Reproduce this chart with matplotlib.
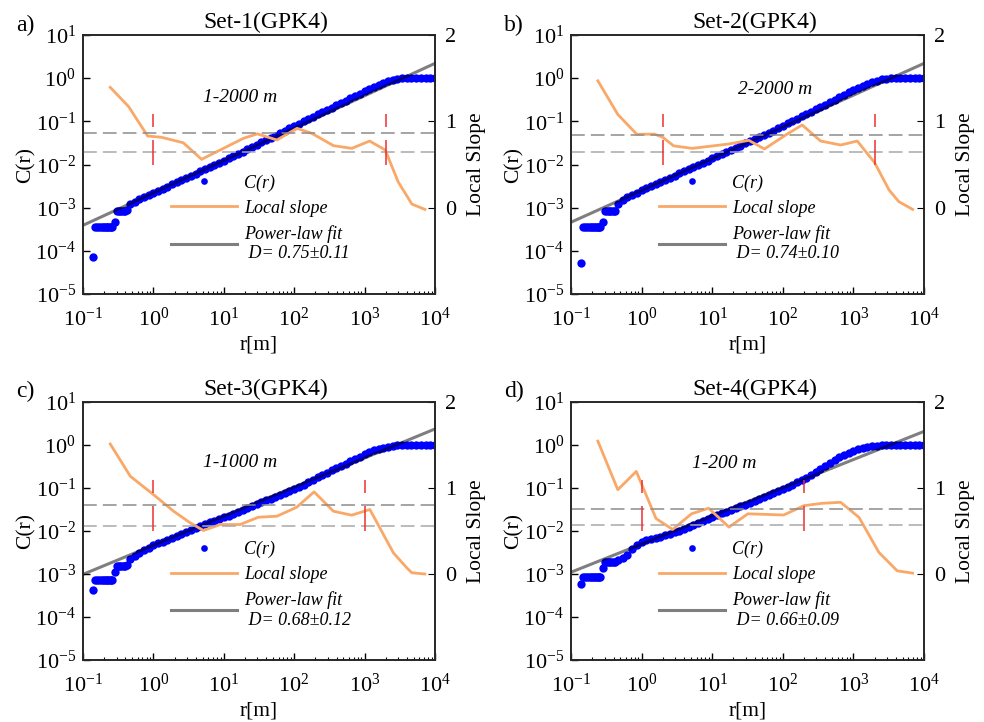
import matplotlib
matplotlib.use('Agg')
import matplotlib.pyplot as plt
import numpy as np
from matplotlib.font_manager import FontProperties
from matplotlib.ticker import LogLocator

plt.rcParams['font.family'] = 'Liberation Serif'
plt.rcParams['mathtext.fontset'] = 'custom'
plt.rcParams['mathtext.rm'] = 'Liberation Serif'
plt.rcParams['mathtext.it'] = 'Liberation Serif:italic'

# distances r [m] shared by all four sets
r_vals = [0.14, 0.15, 0.16, 0.17, 0.18, 0.19, 0.20, 0.21, 0.22, 0.23, 0.24, 0.25, 0.26, 0.285,
          0.30, 0.32, 0.34, 0.36, 0.38, 0.40, 0.42,
          0.464, 0.541, 0.631, 0.736, 0.858,
          1.0, 1.17, 1.36, 1.58, 1.85, 2.15, 2.51, 2.93, 3.41, 3.98, 4.64, 5.41, 6.31, 7.36, 8.58,
          10, 11.7, 13.6, 15.8, 18.5, 21.5, 25.1, 29.3, 34.1, 39.8, 46.4, 54.1, 63.1, 73.6, 85.8,
          100, 117, 136, 158, 185, 215, 251, 293, 341, 398, 464, 541, 631, 736, 858,
          1000, 1170, 1360, 1580, 1850, 2150, 2510, 2930, 3410, 3980, 4640, 5410, 6310, 7360, 8580,
          10000]

# log10 C(r) for each set
logc_1 = [-4.15, -3.455, -3.455, -3.455, -3.455, -3.455, -3.455, -3.455, -3.455, -3.455, -3.455, -3.455, -3.455, -3.34,
          -3.08, -3.08, -3.08, -3.08, -3.08, -3.07, -3.06,
          -2.92, -2.86, -2.81, -2.76, -2.71,
          -2.66, -2.61, -2.56, -2.51, -2.46, -2.41, -2.36, -2.31, -2.26, -2.21, -2.16, -2.11, -2.06, -2.01, -1.96,
          -1.91, -1.855, -1.80, -1.755, -1.70, -1.65, -1.595, -1.54, -1.49, -1.435, -1.38, -1.33, -1.275, -1.22, -1.165,
          -1.11, -1.055, -1.0, -0.95, -0.895, -0.84, -0.79, -0.735, -0.685, -0.63, -0.575, -0.52, -0.47, -0.415, -0.36,
          -0.30, -0.25, -0.20, -0.155, -0.11, -0.07, -0.035, -0.01, 0, 0, 0, 0, 0, 0, 0,
          0]
logc_2 = [-4.29, -3.455, -3.455, -3.455, -3.455, -3.455, -3.455, -3.455, -3.455, -3.455, -3.455, -3.455, -3.455, -3.34,
          -3.08, -3.08, -3.08, -3.08, -3.08, -3.08, -3.07,
          -2.92, -2.83, -2.76, -2.70, -2.65,
          -2.60, -2.55, -2.50, -2.45, -2.40, -2.355, -2.305, -2.255, -2.205, -2.155, -2.105, -2.06, -2.01, -1.96, -1.91,
          -1.86, -1.81, -1.76, -1.71, -1.66, -1.61, -1.56, -1.51, -1.46, -1.41, -1.365, -1.315, -1.265, -1.215, -1.16,
          -1.10, -1.045, -0.99, -0.935, -0.88, -0.83, -0.775, -0.72, -0.665, -0.61, -0.555, -0.50, -0.445, -0.39, -0.33,
          -0.27, -0.22, -0.17, -0.13, -0.09, -0.06, -0.03, -0.01, 0, 0, 0, 0, 0, 0, 0,
          0]
logc_3 = [-3.38, -3.15, -3.15, -3.15, -3.15, -3.15, -3.15, -3.15, -3.15, -3.15, -3.15, -3.15, -3.15, -2.95,
          -2.82, -2.82, -2.82, -2.82, -2.82, -2.82, -2.80,
          -2.66, -2.58, -2.52, -2.45, -2.39,
          -2.335, -2.29, -2.245, -2.20, -2.155, -2.11, -2.065, -2.02, -1.975, -1.93, -1.89, -1.845, -1.80, -1.76, -1.72,
          -1.68, -1.64, -1.595, -1.55, -1.51, -1.465, -1.42, -1.375, -1.33, -1.29, -1.245, -1.20, -1.155, -1.11, -1.07,
          -1.025, -0.975, -0.925, -0.87, -0.81, -0.75, -0.695, -0.64, -0.59, -0.54, -0.485, -0.435, -0.38, -0.33, -0.275,
          -0.22, -0.17, -0.125, -0.09, -0.06, -0.035, -0.015, -0.005, 0, 0, 0, 0, 0, 0, 0,
          0]
logc_4 = [-3.23, -3.06, -3.06, -3.06, -3.06, -3.06, -3.06, -3.06, -3.06, -3.06, -3.06, -3.06, -3.06, -2.86,
          -2.73, -2.73, -2.73, -2.73, -2.73, -2.73, -2.72,
          -2.68, -2.62, -2.55, -2.43, -2.32,
          -2.25, -2.22, -2.19, -2.16, -2.13, -2.10, -2.065, -2.03, -1.995, -1.955, -1.91, -1.865, -1.815, -1.765, -1.715,
          -1.665, -1.625, -1.59, -1.555, -1.515, -1.475, -1.43, -1.385, -1.34, -1.295, -1.25, -1.205, -1.16, -1.115, -1.07,
          -1.02, -0.97, -0.92, -0.87, -0.815, -0.76, -0.70, -0.635, -0.565, -0.495, -0.42, -0.35, -0.29, -0.235, -0.185,
          -0.14, -0.10, -0.07, -0.045, -0.03, -0.015, -0.005, 0, 0, 0, 0, 0, 0, 0, 0,
          0]

# local slope curves
ls_r_1 = [0.244, 0.446, 0.83, 1.31, 2.66, 4.85, 8.9, 19, 30, 57, 110, 178, 363, 660, 1180, 1970, 3000, 4700, 7200]
ls_s_1 = [1.394, 1.17, 0.83, 0.815, 0.752, 0.56, 0.668, 0.803, 0.855, 0.784, 0.919, 0.861, 0.718, 0.687, 0.772,
          0.668, 0.30, 0.042, -0.02]
ls_r_2 = [0.24, 0.46, 0.855, 1.52, 2.0, 2.84, 5.2, 17, 33, 55, 110, 188, 343, 660, 1135, 2000, 3200, 4400, 6900]
ls_s_2 = [1.47, 1.08, 0.85, 0.852, 0.815, 0.716, 0.687, 0.737, 0.78, 0.68, 0.842, 0.958, 0.772, 0.726, 0.772,
          0.521, 0.205, 0.07, -0.02]
ls_r_3 = [0.244, 0.47, 1.0, 1.94, 3.34, 5.15, 8.9, 17, 31, 57, 109, 192, 361, 656, 1190, 2570, 3980, 4700, 7200]
ls_s_3 = [1.512, 1.137, 0.924, 0.73, 0.595, 0.506, 0.575, 0.575, 0.66, 0.672, 0.777, 0.955, 0.73, 0.684, 0.75,
          0.246, 0.072, 0.014, 0.0]
ls_r_4 = [0.24, 0.46, 0.84, 1.6, 2.75, 5.1, 8.9, 17.3, 32, 103, 200, 363, 660, 1200, 2300, 4170, 6900]
ls_s_4 = [1.545, 0.98, 1.193, 0.645, 0.518, 0.70, 0.765, 0.545, 0.70, 0.686, 0.795, 0.822, 0.834, 0.659,
          0.251, 0.037, 0.01]

# power-law fit end points
fit_r = [0.1, 1e4]
fit_c = [[3.9e-4, 2.2], [4.6e-4, 2.2], [9.8e-4, 2.36], [1.1e-3, 2.07]]

titles = ['Set-1(GPK4)', 'Set-2(GPK4)', 'Set-3(GPK4)', 'Set-4(GPK4)']
tags = ['a)', 'b)', 'c)', 'd)']
ranges = ['1-2000 m', '2-2000 m', '1-1000 m', '1-200 m']
limits = [[1, 2000], [2, 2000], [1, 1000], [1, 200]]
d_vals = [0.75, 0.74, 0.68, 0.66]
d_errs = [0.11, 0.10, 0.12, 0.09]

logcs = [logc_1, logc_2, logc_3, logc_4]
ls_rs = [ls_r_1, ls_r_2, ls_r_3, ls_r_4]
ls_ss = [ls_s_1, ls_s_2, ls_s_3, ls_s_4]

orange = '#f9a868'
note_xy = [(0.446, 0.759), (0.579, 0.79), (0.446, 0.764), (0.433, 0.763)]
boxes = [[0.0843, 0.5928, 0.3577, 0.3587], [0.5803, 0.5928, 0.3587, 0.3587],
         [0.0843, 0.0859, 0.3577, 0.3573], [0.5803, 0.0859, 0.3587, 0.3573]]
tag_xy = [(16, 25), (504, 25), (16, 391), (504, 391)]

fig = plt.figure(figsize=(9.84, 7.22), dpi=100)
leg_font = FontProperties(family='Liberation Serif', style='italic', size=13)

for i in range(4):
    ax = fig.add_axes(boxes[i])
    c_line, = ax.plot(r_vals, 10 ** np.array(logcs[i]), 'o', color='blue', ms=6, mec='none', zorder=2)
    fit_line, = ax.plot(fit_r, fit_c[i], color='k', alpha=0.5, lw=2.2, zorder=3)
    ax.set_xscale('log')
    ax.set_yscale('log')
    ax.set_xlim(0.1, 1e4)
    ax.set_ylim(1e-5, 10)
    ax.yaxis.set_major_locator(LogLocator(base=10, numticks=12))
    ax.xaxis.set_major_locator(LogLocator(base=10, numticks=12))
    ax.tick_params(which='both', direction='in', top=False, right=False, labelsize=16)
    ax.tick_params(which='major', length=5, width=1)
    ax.tick_params(which='minor', length=2.5, width=0.8)
    ax.tick_params(axis='x', which='major', pad=10)
    ax.tick_params(axis='y', which='major', pad=5)
    ax.set_xlabel('r[m]', fontsize=15.5, labelpad=3)
    ax.set_ylabel('C(r)', fontsize=15.5, labelpad=0)
    ax.set_title(titles[i], fontsize=17, x=0.52, pad=5)

    ax2 = ax.twinx()
    ax2.set_ylim(-1, 2)
    ax2.set_yticks([0, 1, 2])
    ax2.tick_params(direction='in', length=5, labelsize=16, pad=7)
    ax2.set_ylabel('Local Slope', fontsize=15.5, labelpad=8)
    ls_line, = ax2.plot(ls_rs[i], ls_ss[i], color=orange, lw=2)
    ax2.axhline(d_vals[i] + d_errs[i], color='#8c8c8c', lw=1.1, ls=(0, (9, 4)))
    ax2.axhline(d_vals[i] - d_errs[i], color='#a8a8a8', lw=1.1, ls=(0, (9, 4)))
    for x in limits[i]:
        ax2.plot([x, x], [1.09, 0.5], color='#ee3030', lw=1.1, ls=(0, (8.5, 8.5, 30, 10)))

    for a in (ax, ax2):
        for sp in a.spines.values():
            sp.set_color('#262626')
            sp.set_linewidth(1.2)

    ax.text(note_xy[i][0], note_xy[i][1], ranges[i], transform=ax.transAxes,
            ha='center', va='center', fontstyle='italic', fontsize=14)
    ax2.legend([c_line, ls_line, fit_line],
               ['C(r)', 'Local slope', 'Power-law fit\n D= %.2f\u00b1%.2f' % (d_vals[i], d_errs[i])],
               loc='upper left', bbox_to_anchor=(0.25, 0.462), frameon=False, prop=leg_font,
               handlelength=3.65, handletextpad=0.4, labelspacing=0.45, borderaxespad=0, borderpad=0,
               markerscale=0.8)
    fig.text(tag_xy[i][0] / 984, 1 - tag_xy[i][1] / 722, tags[i], fontsize=17, ha='left', va='center')

fig.savefig('out.png', dpi=100)
